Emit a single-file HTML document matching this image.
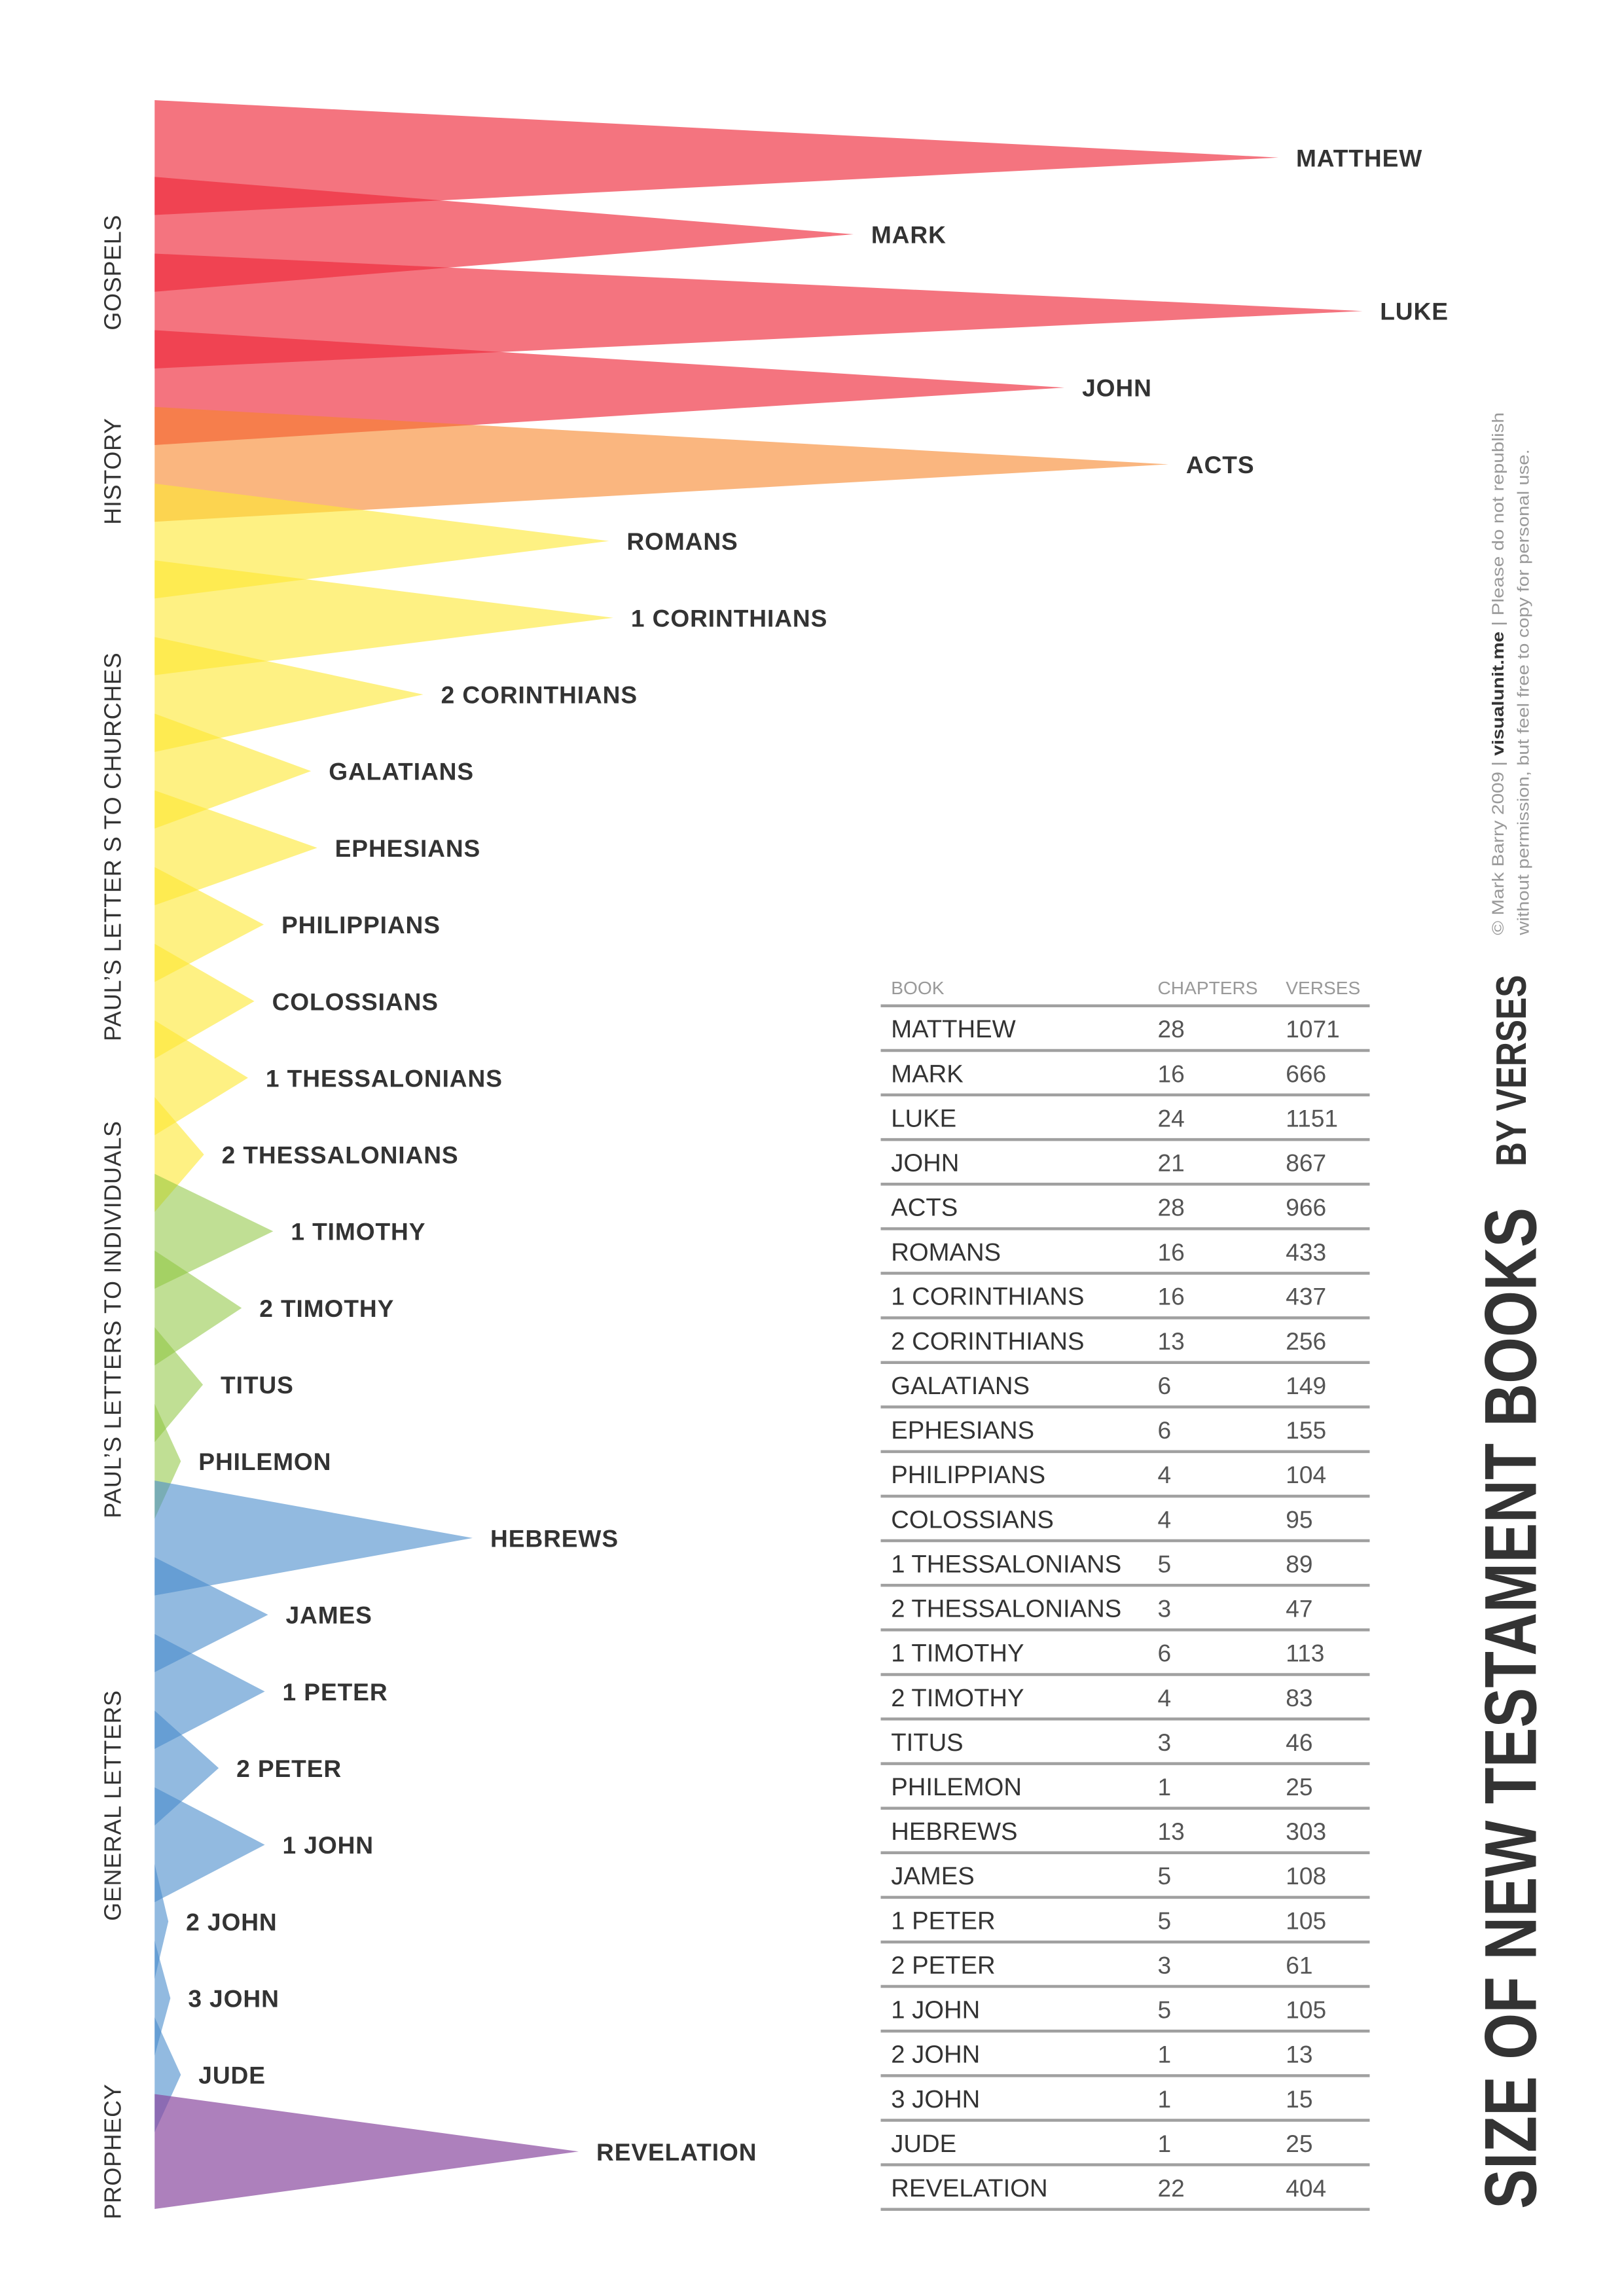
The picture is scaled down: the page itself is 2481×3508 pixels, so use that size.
<!DOCTYPE html>
<html><head><meta charset="utf-8"><style>
html,body{margin:0;padding:0;background:#fff;}
svg{display:block}
.l{font-family:"Liberation Sans",sans-serif;font-weight:bold;font-size:16.5px;fill:#333;letter-spacing:0.4px}
.c{font-family:"Liberation Sans",sans-serif;font-size:16px;fill:#333;letter-spacing:0.3px}
.tn{font-family:"Liberation Sans",sans-serif;font-size:17px;fill:#333}
.tv{font-family:"Liberation Sans",sans-serif;font-size:16.5px;fill:#555}
.th{font-family:"Liberation Sans",sans-serif;font-size:12.5px;fill:#999}
</style></head><body>
<svg width="2481" height="3508" viewBox="0 0 1102.67 1559.1" xmlns="http://www.w3.org/2000/svg">
<g fill-opacity="0.65" fill="#ee2a3b">
<polygon points="105,68 868.1,107 105,146"/>
<polygon points="105,120.1 579.5,159.1 105,198.1"/>
<polygon points="105,172.2 925.1,211.2 105,250.2"/>
<polygon points="105,224.2 722.7,263.2 105,302.2"/>
</g>
<g fill-opacity="0.6" fill="#f7862a">
<polygon points="105,276.3 793.3,315.3 105,354.3"/>
</g>
<g fill-opacity="0.6" fill="#fde830">
<polygon points="105,328.4 413.5,367.4 105,406.4"/>
<polygon points="105,380.5 416.4,419.5 105,458.5"/>
<polygon points="105,432.6 287.4,471.6 105,510.6"/>
<polygon points="105,484.6 211.2,523.6 105,562.6"/>
<polygon points="105,536.7 215.4,575.7 105,614.7"/>
<polygon points="105,588.8 179.1,627.8 105,666.8"/>
<polygon points="105,640.9 172.7,679.9 105,718.9"/>
<polygon points="105,692.9 168.4,731.9 105,770.9"/>
<polygon points="105,745 138.5,784 105,823"/>
</g>
<g fill-opacity="0.55" fill="#8cc43c">
<polygon points="105,797.1 185.5,836.1 105,875.1"/>
<polygon points="105,849.2 164.1,888.2 105,927.2"/>
<polygon points="105,901.3 137.8,940.3 105,979.3"/>
<polygon points="105,953.3 122.8,992.3 105,1031.3"/>
</g>
<g fill-opacity="0.6" fill="#4a8ccc">
<polygon points="105,1005.4 320.9,1044.4 105,1083.4"/>
<polygon points="105,1057.5 182,1096.5 105,1135.5"/>
<polygon points="105,1109.6 179.8,1148.6 105,1187.6"/>
<polygon points="105,1161.6 148.5,1200.6 105,1239.6"/>
<polygon points="105,1213.7 179.8,1252.7 105,1291.7"/>
<polygon points="105,1265.8 114.3,1304.8 105,1343.8"/>
<polygon points="105,1317.9 115.7,1356.9 105,1395.9"/>
<polygon points="105,1369.9 122.8,1408.9 105,1447.9"/>
</g>
<g fill-opacity="0.7" fill="#8a4aa0">
<polygon points="105,1422 392.9,1461 105,1500"/>
</g>
<g class="l">
<text x="880" y="113">MATTHEW</text>
<text x="591.5" y="165.1">MARK</text>
<text x="937" y="217.2">LUKE</text>
<text x="734.7" y="269.2">JOHN</text>
<text x="805.3" y="321.3">ACTS</text>
<text x="425.5" y="373.4">ROMANS</text>
<text x="428.4" y="425.5">1 CORINTHIANS</text>
<text x="299.4" y="477.6">2 CORINTHIANS</text>
<text x="223.2" y="529.6">GALATIANS</text>
<text x="227.4" y="581.7">EPHESIANS</text>
<text x="191.1" y="633.8">PHILIPPIANS</text>
<text x="184.7" y="685.9">COLOSSIANS</text>
<text x="180.4" y="737.9">1 THESSALONIANS</text>
<text x="150.5" y="790">2 THESSALONIANS</text>
<text x="197.5" y="842.1">1 TIMOTHY</text>
<text x="176.1" y="894.2">2 TIMOTHY</text>
<text x="149.8" y="946.3">TITUS</text>
<text x="134.8" y="998.3">PHILEMON</text>
<text x="332.9" y="1050.4">HEBREWS</text>
<text x="194" y="1102.5">JAMES</text>
<text x="191.8" y="1154.6">1 PETER</text>
<text x="160.5" y="1206.6">2 PETER</text>
<text x="191.8" y="1258.7">1 JOHN</text>
<text x="126.3" y="1310.8">2 JOHN</text>
<text x="127.7" y="1362.9">3 JOHN</text>
<text x="134.8" y="1414.9">JUDE</text>
<text x="404.9" y="1467">REVELATION</text>
</g>
<g class="c" text-anchor="middle">
<text transform="translate(82,185) rotate(-90)">GOSPELS</text>
<text transform="translate(82,320) rotate(-90)">HISTORY</text>
<text transform="translate(82,575) rotate(-90)">PAUL’S LETTER S TO CHURCHES</text>
<text transform="translate(82,896) rotate(-90)">PAUL’S LETTERS TO INDIVIDUALS</text>
<text transform="translate(82,1226) rotate(-90)">GENERAL LETTERS</text>
<text transform="translate(82,1461) rotate(-90)">PROPHECY</text>
</g>
<g class="th">
<text x="605" y="675">BOOK</text><text x="786" y="675">CHAPTERS</text><text x="873" y="675">VERSES</text>
</g>
<g stroke="#a0a0a0" stroke-width="2">
<line x1="598" x2="930" y1="683" y2="683"/><line x1="598" x2="930" y1="713.3" y2="713.3"/><line x1="598" x2="930" y1="743.5" y2="743.5"/><line x1="598" x2="930" y1="773.8" y2="773.8"/><line x1="598" x2="930" y1="804.1" y2="804.1"/><line x1="598" x2="930" y1="834.4" y2="834.4"/><line x1="598" x2="930" y1="864.6" y2="864.6"/><line x1="598" x2="930" y1="894.9" y2="894.9"/><line x1="598" x2="930" y1="925.2" y2="925.2"/><line x1="598" x2="930" y1="955.4" y2="955.4"/><line x1="598" x2="930" y1="985.7" y2="985.7"/><line x1="598" x2="930" y1="1016" y2="1016"/><line x1="598" x2="930" y1="1046.2" y2="1046.2"/><line x1="598" x2="930" y1="1076.5" y2="1076.5"/><line x1="598" x2="930" y1="1106.8" y2="1106.8"/><line x1="598" x2="930" y1="1137.1" y2="1137.1"/><line x1="598" x2="930" y1="1167.3" y2="1167.3"/><line x1="598" x2="930" y1="1197.6" y2="1197.6"/><line x1="598" x2="930" y1="1227.9" y2="1227.9"/><line x1="598" x2="930" y1="1258.1" y2="1258.1"/><line x1="598" x2="930" y1="1288.4" y2="1288.4"/><line x1="598" x2="930" y1="1318.7" y2="1318.7"/><line x1="598" x2="930" y1="1348.9" y2="1348.9"/><line x1="598" x2="930" y1="1379.2" y2="1379.2"/><line x1="598" x2="930" y1="1409.5" y2="1409.5"/><line x1="598" x2="930" y1="1439.8" y2="1439.8"/><line x1="598" x2="930" y1="1470" y2="1470"/><line x1="598" x2="930" y1="1500.3" y2="1500.3"/>
</g>
<g class="tn">
<text x="605" y="704.5">MATTHEW</text><text x="605" y="734.8">MARK</text><text x="605" y="765">LUKE</text><text x="605" y="795.3">JOHN</text><text x="605" y="825.6">ACTS</text><text x="605" y="855.9">ROMANS</text><text x="605" y="886.1">1 CORINTHIANS</text><text x="605" y="916.4">2 CORINTHIANS</text><text x="605" y="946.7">GALATIANS</text><text x="605" y="976.9">EPHESIANS</text><text x="605" y="1007.2">PHILIPPIANS</text><text x="605" y="1037.5">COLOSSIANS</text><text x="605" y="1067.7">1 THESSALONIANS</text><text x="605" y="1098">2 THESSALONIANS</text><text x="605" y="1128.3">1 TIMOTHY</text><text x="605" y="1158.6">2 TIMOTHY</text><text x="605" y="1188.8">TITUS</text><text x="605" y="1219.1">PHILEMON</text><text x="605" y="1249.4">HEBREWS</text><text x="605" y="1279.6">JAMES</text><text x="605" y="1309.9">1 PETER</text><text x="605" y="1340.2">2 PETER</text><text x="605" y="1370.4">1 JOHN</text><text x="605" y="1400.7">2 JOHN</text><text x="605" y="1431">3 JOHN</text><text x="605" y="1461.3">JUDE</text><text x="605" y="1491.5">REVELATION</text>
</g>
<g class="tv">
<text x="786" y="704.5">28</text><text x="873" y="704.5">1071</text>
<text x="786" y="734.8">16</text><text x="873" y="734.8">666</text>
<text x="786" y="765">24</text><text x="873" y="765">1151</text>
<text x="786" y="795.3">21</text><text x="873" y="795.3">867</text>
<text x="786" y="825.6">28</text><text x="873" y="825.6">966</text>
<text x="786" y="855.9">16</text><text x="873" y="855.9">433</text>
<text x="786" y="886.1">16</text><text x="873" y="886.1">437</text>
<text x="786" y="916.4">13</text><text x="873" y="916.4">256</text>
<text x="786" y="946.7">6</text><text x="873" y="946.7">149</text>
<text x="786" y="976.9">6</text><text x="873" y="976.9">155</text>
<text x="786" y="1007.2">4</text><text x="873" y="1007.2">104</text>
<text x="786" y="1037.5">4</text><text x="873" y="1037.5">95</text>
<text x="786" y="1067.7">5</text><text x="873" y="1067.7">89</text>
<text x="786" y="1098">3</text><text x="873" y="1098">47</text>
<text x="786" y="1128.3">6</text><text x="873" y="1128.3">113</text>
<text x="786" y="1158.6">4</text><text x="873" y="1158.6">83</text>
<text x="786" y="1188.8">3</text><text x="873" y="1188.8">46</text>
<text x="786" y="1219.1">1</text><text x="873" y="1219.1">25</text>
<text x="786" y="1249.4">13</text><text x="873" y="1249.4">303</text>
<text x="786" y="1279.6">5</text><text x="873" y="1279.6">108</text>
<text x="786" y="1309.9">5</text><text x="873" y="1309.9">105</text>
<text x="786" y="1340.2">3</text><text x="873" y="1340.2">61</text>
<text x="786" y="1370.4">5</text><text x="873" y="1370.4">105</text>
<text x="786" y="1400.7">1</text><text x="873" y="1400.7">13</text>
<text x="786" y="1431">1</text><text x="873" y="1431">15</text>
<text x="786" y="1461.3">1</text><text x="873" y="1461.3">25</text>
<text x="786" y="1491.5">22</text><text x="873" y="1491.5">404</text>
</g>
<text transform="translate(1043,1500) rotate(-90)" font-family="Liberation Sans,sans-serif" font-weight="bold" font-size="50" fill="#333" textLength="680" lengthAdjust="spacingAndGlyphs">SIZE OF NEW TESTAMENT BOOKS</text>
<text transform="translate(1036,792) rotate(-90)" font-family="Liberation Sans,sans-serif" font-weight="bold" font-size="29" fill="#333" textLength="130" lengthAdjust="spacingAndGlyphs">BY VERSES</text>
<text transform="translate(1021,635) rotate(-90)" font-family="Liberation Sans,sans-serif" font-size="11" fill="#999" textLength="355" lengthAdjust="spacingAndGlyphs">© Mark Barry 2009 | <tspan font-weight="bold" fill="#333">visualunit.me</tspan> | Please do not republish</text>
<text transform="translate(1038,635) rotate(-90)" font-family="Liberation Sans,sans-serif" font-size="11" fill="#999" textLength="330" lengthAdjust="spacingAndGlyphs">without permission, but feel free to copy for personal use.</text>
</svg>
</body></html>
